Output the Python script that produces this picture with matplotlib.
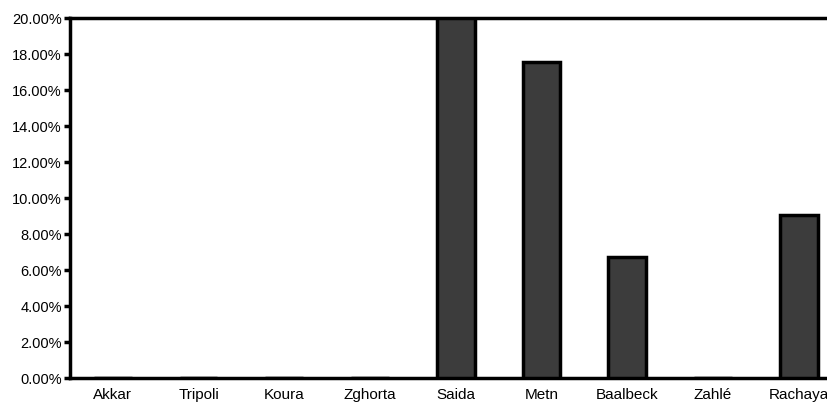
import matplotlib.pyplot as plt
from matplotlib.ticker import FuncFormatter

plt.rcParams['font.family'] = ['Liberation Sans', 'DejaVu Sans']

# share per district (%)
districts = ["Akkar", "Tripoli", "Koura", "Zghorta", "Saida", "Metn", "Baalbeck", "Zahlé", "Rachaya"]
shares = [0, 0, 0, 0, 20.0, 17.55, 6.75, 0, 9.05]
y_ticks = [0, 2, 4, 6, 8, 10, 12, 14, 16, 18, 20]

fig = plt.figure(figsize=(8.28, 4.11), dpi=100)
# the original scan is cropped on the right, so the axes run past the figure edge
ax = fig.add_axes([0.0845, 0.08, 0.932, 0.876])

x = range(len(districts))
ax.bar(x, shares, width=0.44, color='#3c3c3c', edgecolor='black', linewidth=2.5, zorder=3)

ax.set_xlim(-0.5, len(districts) - 0.5)
ax.set_ylim(0, 20)
ax.set_yticks(y_ticks)
ax.yaxis.set_major_formatter(FuncFormatter(lambda v, p: f"{v:.2f}%"))
ax.set_xticks(list(x))
ax.set_xticklabels(districts, fontsize=11)

for s in ax.spines.values():
    s.set_linewidth(2.5)
ax.tick_params(axis='y', direction='out', length=4, width=2.5, labelsize=10.5, pad=2)
ax.tick_params(axis='x', length=0, pad=7)

fig.savefig("out.png", dpi=100)
